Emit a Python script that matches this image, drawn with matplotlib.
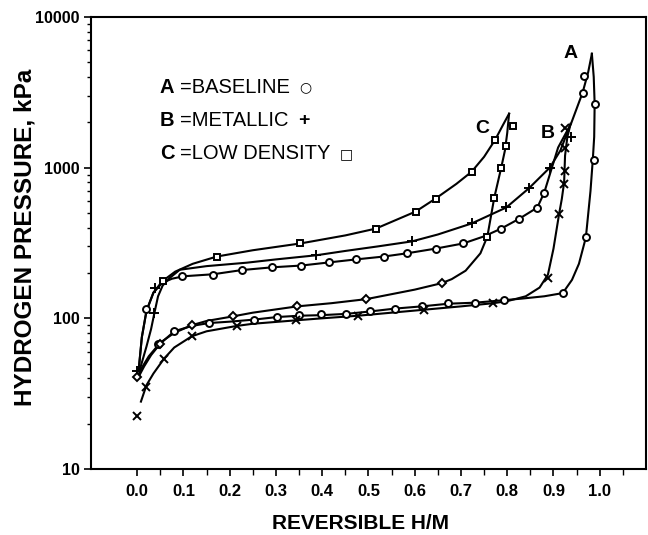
import matplotlib
matplotlib.use("Agg")
import matplotlib.pyplot as plt
from matplotlib.ticker import FixedLocator, NullFormatter, LogLocator

plt.rcParams['font.family'] = ['Liberation Sans', 'DejaVu Sans']

# ---------------- data ----------------
# A = BASELINE (circles)
a_abs_x = [0.003, 0.01, 0.02, 0.035, 0.054, 0.075, 0.099, 0.164, 0.226, 0.292, 0.355, 0.415,
           0.473, 0.533, 0.583, 0.645, 0.705, 0.75, 0.787, 0.826, 0.865, 0.88, 0.91, 0.938,
           0.963, 0.975, 0.983]
a_abs_p = [45, 75, 112, 148, 172, 183, 190, 196, 209, 218, 224, 235,
           246, 257, 270, 290, 314, 350, 394, 458, 543, 683, 1360, 1960,
           3150, 4300, 5700]
a_des_x = [0.983, 0.987, 0.989, 0.988, 0.985, 0.98, 0.97, 0.955, 0.94, 0.92, 0.88, 0.83,
           0.794, 0.731, 0.673, 0.615, 0.557, 0.503, 0.452, 0.40, 0.35, 0.303, 0.252, 0.2,
           0.155, 0.118, 0.08, 0.05, 0.03, 0.015, 0.005]
a_des_p = [5700, 4000, 2650, 1600, 1130, 700, 344, 230, 180, 147, 140, 135,
           132, 127, 125, 120, 116, 111, 107, 105, 104, 102, 98, 95,
           93, 89, 82, 68, 57, 48, 42]
a_mk_x = [0.019, 0.097, 0.164, 0.226, 0.292, 0.355, 0.415, 0.473, 0.533, 0.583, 0.645, 0.705,
          0.787, 0.826, 0.865, 0.88, 0.963, 0.967,
          0.989, 0.987, 0.970, 0.920, 0.794, 0.731, 0.673, 0.615, 0.557, 0.503, 0.452, 0.398,
          0.35, 0.303, 0.252, 0.155, 0.08, 0.045]
a_mk_p = [116, 190, 195, 209, 218, 224, 235, 246, 257, 270, 290, 314,
          394, 458, 543, 683, 3150, 4050,
          2650, 1130, 344, 147, 132, 127, 126, 120, 116, 111, 106, 106,
          105, 102, 98, 93, 82, 68]

# B = METALLIC (+ absorption, x desorption)
b_abs_x = [0.005, 0.02, 0.03, 0.037, 0.045, 0.055, 0.07, 0.092, 0.15, 0.237, 0.3, 0.387,
           0.45, 0.52, 0.594, 0.65, 0.723, 0.798, 0.847, 0.892, 0.915, 0.937]
b_abs_p = [45, 65, 85, 108, 140, 165, 185, 210, 222, 234, 246, 262,
           280, 300, 324, 360, 426, 544, 730, 1000, 1300, 1950]
b_des_x = [0.937, 0.93, 0.925, 0.923, 0.918, 0.912, 0.9, 0.888, 0.87, 0.84, 0.8, 0.77,
           0.7, 0.62, 0.55, 0.477, 0.4, 0.344, 0.25, 0.215, 0.15, 0.118, 0.08, 0.058,
           0.035, 0.02, 0.008]
b_des_p = [1950, 1600, 1200, 800, 620, 490, 290, 195, 160, 140, 130, 126,
           120, 114, 109, 104, 100, 97, 92, 89, 82, 76, 64, 54,
           43, 36, 28]
b_plus_x = [0.0, 0.037, 0.039, 0.387, 0.594, 0.723, 0.798, 0.847, 0.892, 0.938]
b_plus_p = [45, 108, 160, 262, 324, 426, 544, 730, 1000, 1590]
b_cross_x = [0.925, 0.925, 0.925, 0.923, 0.912, 0.888, 0.77, 0.62, 0.477, 0.344, 0.215,
             0.118, 0.058, 0.02, 0.0]
b_cross_p = [1820, 1350, 955, 780, 490, 186, 126, 113, 104, 97, 89,
             76, 54, 35, 22.4]

# C = LOW DENSITY (squares absorption, diamonds desorption)
c_abs_x = [0.003, 0.01, 0.02, 0.035, 0.054, 0.082, 0.12, 0.172, 0.25, 0.353, 0.45, 0.516,
           0.602, 0.645, 0.69, 0.723, 0.75, 0.774, 0.79, 0.804]
c_abs_p = [45, 75, 112, 148, 176, 204, 230, 257, 283, 314, 355, 394,
           511, 623, 780, 939, 1180, 1532, 1900, 2280]
c_des_x = [0.804, 0.80, 0.795, 0.787, 0.772, 0.757, 0.742, 0.71, 0.68, 0.658, 0.6, 0.495,
           0.42, 0.346, 0.25, 0.207, 0.15, 0.118, 0.08, 0.05, 0.025, 0.01, 0.0]
c_des_p = [2280, 1700, 1300, 1000, 633, 349, 270, 207, 182, 171, 155, 134,
           126, 120, 109, 103, 96, 90, 80, 69, 56, 47, 41]
c_sq_x = [0.056, 0.172, 0.353, 0.516, 0.602, 0.645, 0.723, 0.774,
          0.813, 0.798, 0.787, 0.772, 0.757]
c_sq_p = [176, 257, 314, 394, 511, 623, 939, 1532,
          1897, 1400, 1000, 633, 349]
c_dia_x = [0.658, 0.495, 0.346, 0.207, 0.118, 0.05, 0.0]
c_dia_p = [171, 134, 120, 103, 90, 68, 41]

x_ticks = [0.0, 0.1, 0.2, 0.3, 0.4, 0.5, 0.6, 0.7, 0.8, 0.9, 1.0]
x_minor = [0.05, 0.15, 0.25, 0.35, 0.45, 0.55, 0.65, 0.75, 0.85, 0.95, 1.05]
y_ticks = [10, 100, 1000, 10000]
y_labels = ["10", "100", "1000", "10000"]

legend_letters = ["A", "B", "C"]
legend_names = ["=BASELINE", "=METALLIC", "=LOW DENSITY"]
legend_syms = ["\u25CB", "+", "\u25A1"]

# ---------------- figure ----------------
fig = plt.figure(figsize=(6.48, 5.35), dpi=100)
ax = fig.add_axes([0.1404, 0.1234, 0.8565, 0.8449])

lw = 1.5
for xs, ps in [(a_abs_x, a_abs_p), (a_des_x, a_des_p), (b_abs_x, b_abs_p),
               (b_des_x, b_des_p), (c_abs_x, c_abs_p), (c_des_x, c_des_p)]:
    ax.plot(xs, ps, color='black', lw=lw, solid_joinstyle='round', zorder=2)

mk = dict(linestyle='none', color='black', mfc='white', mec='black', mew=1.4, zorder=3)
ax.plot(a_mk_x, a_mk_p, marker='o', ms=5, **mk)
ax.plot(b_plus_x, b_plus_p, marker='+', ms=7, **mk)
ax.plot(b_cross_x, b_cross_p, marker='x', ms=6, **mk)
ax.plot(c_sq_x, c_sq_p, marker='s', ms=5, **mk)
ax.plot(c_dia_x, c_dia_p, marker='D', ms=4.5, **mk)

ax.set_yscale('log')
ax.set_xlim(-0.1, 1.1)
ax.set_ylim(10, 10000)

ax.xaxis.set_major_locator(FixedLocator(x_ticks))
ax.xaxis.set_minor_locator(FixedLocator(x_minor))
ax.set_xticklabels([f"{v:.1f}" for v in x_ticks])
ax.yaxis.set_major_locator(FixedLocator(y_ticks))
ax.set_yticklabels(y_labels)
ax.yaxis.set_minor_locator(LogLocator(base=10, subs=range(2, 10)))
ax.yaxis.set_minor_formatter(NullFormatter())

ax.tick_params(axis='x', which='major', direction='out', length=5, width=1.2, pad=6,
               labelsize=12, top=False)
ax.tick_params(axis='x', which='minor', direction='out', length=4, width=1.0, top=False)
ax.tick_params(axis='y', which='major', direction='out', length=5, width=1.2, pad=3,
               labelsize=11.5, right=False)
ax.tick_params(axis='y', which='minor', direction='out', length=3, width=1.0, right=False)
for lab in ax.get_xticklabels() + ax.get_yticklabels():
    lab.set_fontweight('bold')
for s in ax.spines.values():
    s.set_linewidth(1.5)

# curve labels
ax.text(0.938, 5740, "A", fontsize=14, fontweight='bold', ha='center', va='center')
ax.text(0.888, 1690, "B", fontsize=14, fontweight='bold', ha='center', va='center')
ax.text(0.746, 1820, "C", fontsize=14, fontweight='bold', ha='center', va='center')

# legend block as text
ys = [0.845, 0.772, 0.697]
for letter, name, sym, yy in zip(legend_letters, legend_names, legend_syms, ys):
    ax.text(0.124, yy, letter, transform=ax.transAxes, fontsize=14.5, fontweight='bold',
            ha='left', va='center')
    t = ax.text(0.160, yy, name, transform=ax.transAxes, fontsize=14.5,
                ha='left', va='center')
    fig.canvas.draw()
    bb = t.get_window_extent()
    xend = ax.transAxes.inverted().transform((bb.x1, bb.y0))[0]
    if sym == "+":
        ax.text(xend + 0.018, yy, sym, transform=ax.transAxes, fontsize=14, fontweight='bold',
                ha='left', va='center')
    else:
        ax.text(xend + 0.018, yy, sym, transform=ax.transAxes, fontsize=10,
                family=['DejaVu Sans'], ha='left', va='center')

fig.text(0.0386, 0.557, "HYDROGEN PRESSURE, kPa", rotation=90, fontsize=17.5,
         fontweight='bold', ha='center', va='center')
fig.text(0.5556, 0.0206, "REVERSIBLE H/M", fontsize=15, fontweight='bold',
         ha='center', va='center')

fig.savefig("out.png", dpi=100)
